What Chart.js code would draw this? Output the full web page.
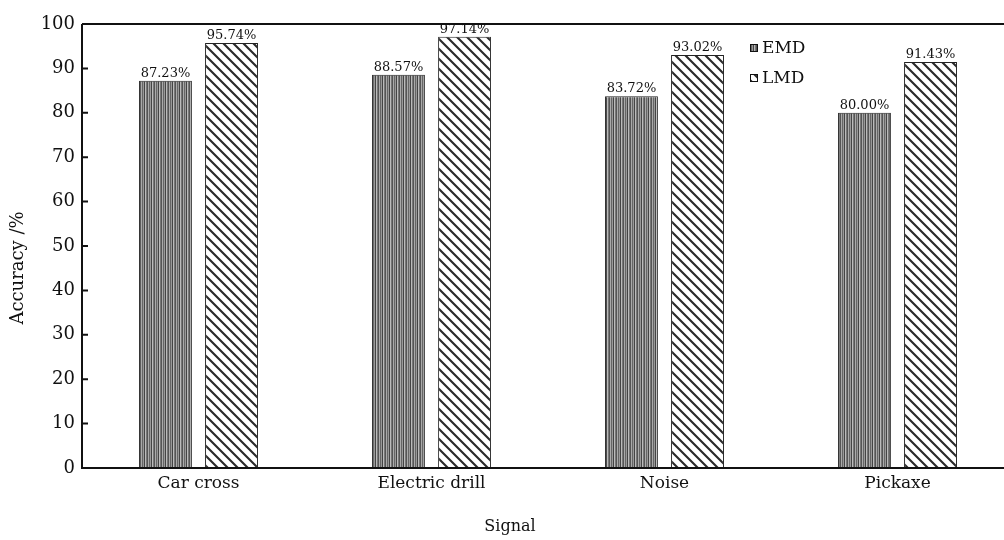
<!DOCTYPE html>
<html>
<head>
<meta charset="utf-8">
<script src="https://cdn.jsdelivr.net/npm/chart.js@4.4.0/dist/chart.umd.min.js"></script>
<style>
  html, body { margin: 0; padding: 0; background: #fff; overflow: hidden; }
  #wrap { width: 1004px; height: 540px; overflow: hidden; }
</style>
</head>
<body>
<div id="wrap"><canvas id="bars" width="1018" height="540"></canvas></div>
<script>
const ctx = document.getElementById('bars')

// data
const signals = ['Car cross', 'Electric drill', 'Noise', 'Pickaxe']
const seriesNames = ['EMD', 'LMD']
const emd = [87.23, 88.57, 83.72, 80.00]
const lmd = [95.74, 97.14, 93.02, 91.43]
const yTicks = [0, 10, 20, 30, 40, 50, 60, 70, 80, 90, 100]

const serif = '"DejaVu Serif", "Liberation Serif", serif'

// vertical stripes for EMD
function vertPattern() {
  const c = document.createElement('canvas')
  c.width = 7; c.height = 4
  const g = c.getContext('2d')
  g.fillStyle = '#ffffff'; g.fillRect(0, 0, 7, 4)
  const shades = ['#555', '#aaa', '#666', '#999', '#444', '#bbb', '#777']
  for (let i = 0; i < 7; i++) {
    g.fillStyle = shades[i]; g.fillRect(i, 0, 1, 4)
  }
  return g.createPattern(c, 'repeat')
}

// diagonal "\" stripes for LMD
function diagPattern() {
  const s = 10
  const c = document.createElement('canvas')
  c.width = s; c.height = s
  const g = c.getContext('2d')
  g.fillStyle = '#ffffff'; g.fillRect(0, 0, s, s)
  g.strokeStyle = '#2a2a2a'; g.lineWidth = 2.1
  g.beginPath()
  g.moveTo(-s, 0); g.lineTo(s, 2 * s)
  g.moveTo(0, 0); g.lineTo(s, s)
  g.moveTo(0, -s); g.lineTo(2 * s, s)
  g.stroke()
  return g.createPattern(c, 'repeat')
}

const fills = [vertPattern(), diagPattern()]

// inward y ticks, frame top line, bar labels, legend and axis titles
const decor = {
  id: 'decor',
  afterDatasetsDraw(chart) {
    const c = chart.ctx
    const a = chart.chartArea
    const y = chart.scales.y
    c.save()
    c.strokeStyle = '#111'
    c.lineWidth = 2
    c.beginPath()
    c.moveTo(a.left, a.top); c.lineTo(a.right + 4, a.top)
    c.moveTo(a.left, a.top); c.lineTo(a.left, a.bottom)
    c.moveTo(a.left - 1, a.bottom); c.lineTo(a.right + 4, a.bottom)
    yTicks.forEach(v => {
      const py = y.getPixelForValue(v)
      c.moveTo(a.left, py); c.lineTo(a.left + 6, py)
    })
    c.stroke()

    // value labels
    c.fillStyle = '#111'
    c.font = '13px ' + serif
    c.textAlign = 'center'
    c.textBaseline = 'bottom'
    chart.data.datasets.forEach((ds, i) => {
      chart.getDatasetMeta(i).data.forEach((bar, j) => {
        c.fillText(ds.data[j].toFixed(2) + '%', bar.x, bar.y - 1)
      })
    })

    // legend
    c.font = '17px ' + serif
    c.textAlign = 'left'
    c.textBaseline = 'middle'
    chart.data.datasets.forEach((ds, i) => {
      const ly = 48 + i * 30
      c.fillStyle = ds.backgroundColor
      c.fillRect(750, ly - 4, 8, 8)
      c.lineWidth = 1
      c.strokeRect(750.5, ly - 3.5, 7, 7)
      c.fillStyle = '#111'
      c.fillText(ds.label, 762, ly + 1)
    })

    // axis titles
    c.textAlign = 'center'
    c.font = '16px ' + serif
    c.fillText('Signal', 510, 527)
    c.translate(18, 268)
    c.rotate(-Math.PI / 2)
    c.font = '18px ' + serif
    c.fillText('Accuracy /%', 0, 0)
    c.restore()
  }
}

const myChart = new Chart(ctx, {
  type: 'bar',
  data: {
    labels: signals,
    datasets: [
      { label: seriesNames[0], data: emd, backgroundColor: fills[0], borderColor: '#222', borderWidth: 1 },
      { label: seriesNames[1], data: lmd, backgroundColor: fills[1], borderColor: '#222', borderWidth: 1 }
    ]
  },
  options: {
    responsive: false,
    animation: false,
    events: [],
    layout: { padding: { top: 24, right: 4, left: 0, bottom: 0 } },
    categoryPercentage: 0.567,
    barPercentage: 0.8,
    scales: {
      x: {
        grid: { display: false, drawTicks: false },
        border: { display: false },
        ticks: { color: '#111', font: { family: serif, size: 17 }, padding: 5 },
        afterFit: s => { s.height = 72 }
      },
      y: {
        min: 0, max: 100,
        afterBuildTicks: s => { s.ticks = yTicks.map(v => ({ value: v })) },
        grid: { display: false, drawTicks: false },
        border: { display: false },
        ticks: { color: '#111', font: { family: serif, size: 18 }, padding: 7 },
        afterFit: s => { s.width = 82 }
      }
    },
    plugins: {
      legend: { display: false },
      tooltip: { enabled: false }
    }
  },
  plugins: [decor]
})
</script>
</body>
</html>
